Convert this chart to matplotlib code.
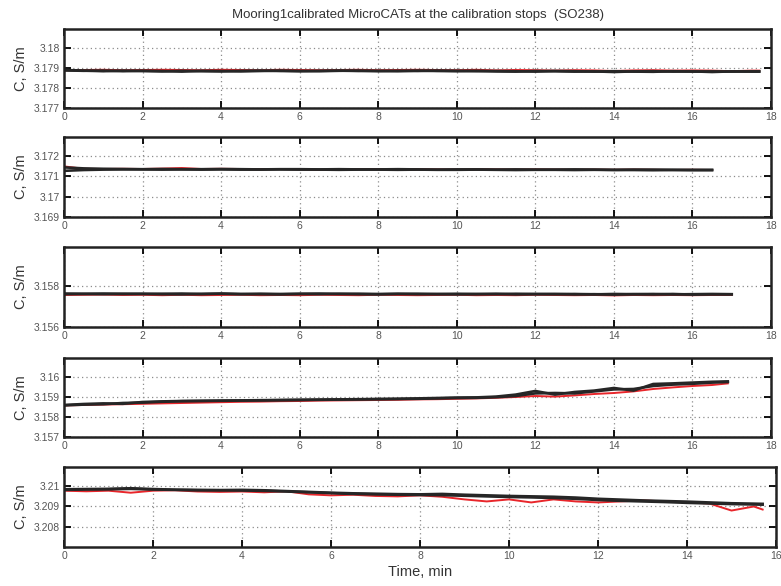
import matplotlib
matplotlib.use("Agg")
import matplotlib.pyplot as plt

plt.rcParams['font.family'] = ['Liberation Sans', 'DejaVu Sans']

# Time axes (min) for each calibration stop
t1 = [0, 0.5, 1, 1.5, 2, 2.5, 3, 3.5, 4, 4.5, 5, 5.5, 6, 6.5, 7, 7.5, 8, 8.5, 9, 9.5,
      10, 10.5, 11, 11.5, 12, 12.5, 13, 13.5, 14, 14.5, 15, 15.5, 16, 16.5, 17, 17.5, 17.7]
t2 = [0, 0.5, 1, 1.5, 2, 2.5, 3, 3.5, 4, 4.5, 5, 5.5, 6, 6.5, 7, 7.5, 8, 8.5, 9, 9.5,
      10, 10.5, 11, 11.5, 12, 12.5, 13, 13.5, 14, 14.5, 15, 15.5, 16, 16.5]
t3 = [0, 0.5, 1, 1.5, 2, 2.5, 3, 3.5, 4, 4.5, 5, 5.5, 6, 6.5, 7, 7.5, 8, 8.5, 9, 9.5,
      10, 10.5, 11, 11.5, 12, 12.5, 13, 13.5, 14, 14.5, 15, 15.5, 16, 16.5, 17]
t4 = [0, 0.5, 1, 1.5, 2, 2.5, 3, 3.5, 4, 4.5, 5, 5.5, 6, 6.5, 7, 7.5, 8, 8.5, 9, 9.5,
      10, 10.5, 11, 11.5, 12, 12.5, 13, 13.5, 14, 14.5, 15, 15.5, 16, 16.5, 16.9]
t5 = [0, 0.5, 1, 1.5, 2, 2.5, 3, 3.5, 4, 4.5, 5, 5.5, 6, 6.5, 7, 7.5, 8, 8.5, 9, 9.5,
      10, 10.5, 11, 11.5, 12, 12.5, 13, 13.5, 14, 14.5, 15, 15.5, 15.7]

# Stop 1
c1_black_a = [3.17890, 3.17887, 3.17884, 3.17887, 3.17885, 3.17883, 3.17886, 3.17884, 3.17883, 3.17886,
              3.17887, 3.17885, 3.17884, 3.17886, 3.17887, 3.17885, 3.17886, 3.17884, 3.17887, 3.17885,
              3.17884, 3.17886, 3.17883, 3.17882, 3.17885, 3.17884, 3.17882, 3.17883, 3.17880, 3.17883,
              3.17884, 3.17882, 3.17883, 3.17880, 3.17883, 3.17882, 3.17882]
c1_black_b = [3.17888, 3.17886, 3.17887, 3.17884, 3.17886, 3.17885, 3.17882, 3.17886, 3.17885, 3.17883,
              3.17885, 3.17887, 3.17885, 3.17884, 3.17886, 3.17887, 3.17884, 3.17886, 3.17885, 3.17887,
              3.17886, 3.17884, 3.17885, 3.17884, 3.17882, 3.17885, 3.17884, 3.17882, 3.17884, 3.17882,
              3.17881, 3.17884, 3.17882, 3.17883, 3.17882, 3.17883, 3.17883]
c1_red = [3.17889, 3.17890, 3.17891, 3.17889, 3.17890, 3.17891, 3.17890, 3.17889, 3.17891, 3.17890,
          3.17889, 3.17891, 3.17890, 3.17889, 3.17890, 3.17891, 3.17889, 3.17890, 3.17891, 3.17890,
          3.17889, 3.17891, 3.17888, 3.17890, 3.17889, 3.17887, 3.17889, 3.17888, 3.17885, 3.17888,
          3.17889, 3.17887, 3.17888, 3.17887, 3.17884, 3.17887, 3.17887]

# Stop 2
c2_black_a = [3.17145, 3.17140, 3.17138, 3.17137, 3.17136, 3.17137, 3.17136, 3.17136, 3.17137, 3.17136,
              3.17135, 3.17136, 3.17136, 3.17135, 3.17136, 3.17135, 3.17135, 3.17136, 3.17135, 3.17134,
              3.17135, 3.17135, 3.17134, 3.17135, 3.17134, 3.17134, 3.17135, 3.17134, 3.17133, 3.17134,
              3.17134, 3.17133, 3.17133, 3.17133]
c2_black_b = [3.17128, 3.17132, 3.17134, 3.17135, 3.17135, 3.17134, 3.17135, 3.17134, 3.17135, 3.17134,
              3.17134, 3.17135, 3.17134, 3.17134, 3.17133, 3.17134, 3.17134, 3.17133, 3.17134, 3.17133,
              3.17133, 3.17134, 3.17133, 3.17132, 3.17133, 3.17133, 3.17132, 3.17133, 3.17132, 3.17132,
              3.17131, 3.17132, 3.17131, 3.17131]
c2_red = [3.17150, 3.17138, 3.17137, 3.17138, 3.17137, 3.17139, 3.17142, 3.17137, 3.17138, 3.17137,
          3.17136, 3.17137, 3.17136, 3.17132, 3.17136, 3.17137, 3.17136, 3.17135, 3.17136, 3.17135,
          3.17134, 3.17136, 3.17135, 3.17134, 3.17135, 3.17134, 3.17133, 3.17134, 3.17133, 3.17134,
          3.17133, 3.17132, 3.17133, 3.17132]

# Stop 3
c3_black_a = [3.15763, 3.15762, 3.15763, 3.15762, 3.15761, 3.15762, 3.15763, 3.15761, 3.15762, 3.15760,
              3.15762, 3.15761, 3.15762, 3.15763, 3.15761, 3.15762, 3.15761, 3.15762, 3.15760, 3.15761,
              3.15762, 3.15761, 3.15760, 3.15762, 3.15761, 3.15760, 3.15761, 3.15759, 3.15761, 3.15760,
              3.15761, 3.15759, 3.15760, 3.15761, 3.15760]
c3_black_b = [3.15760, 3.15761, 3.15760, 3.15761, 3.15762, 3.15760, 3.15759, 3.15761, 3.15763, 3.15761,
              3.15760, 3.15759, 3.15761, 3.15760, 3.15762, 3.15760, 3.15759, 3.15761, 3.15762, 3.15760,
              3.15759, 3.15760, 3.15762, 3.15759, 3.15760, 3.15761, 3.15759, 3.15760, 3.15758, 3.15760,
              3.15759, 3.15761, 3.15758, 3.15759, 3.15759]
c3_red = [3.15756, 3.15757, 3.15758, 3.15756, 3.15757, 3.15755, 3.15757, 3.15755, 3.15756, 3.15757,
          3.15755, 3.15756, 3.15755, 3.15757, 3.15756, 3.15755, 3.15757, 3.15756, 3.15755, 3.15756,
          3.15757, 3.15755, 3.15756, 3.15755, 3.15757, 3.15756, 3.15755, 3.15756, 3.15754, 3.15756,
          3.15755, 3.15756, 3.15755, 3.15756, 3.15756]

# Stop 4
c4_black_a = [3.15860, 3.15865, 3.15868, 3.15866, 3.15875, 3.15878, 3.15880, 3.15881, 3.15882, 3.15883,
              3.15884, 3.15885, 3.15886, 3.15887, 3.15888, 3.15889, 3.15890, 3.15891, 3.15893, 3.15895,
              3.15897, 3.15898, 3.15902, 3.15912, 3.15930, 3.15912, 3.15925, 3.15932, 3.15945, 3.15932,
              3.15965, 3.15968, 3.15972, 3.15976, 3.15978]
c4_black_b = [3.15858, 3.15862, 3.15864, 3.15870, 3.15872, 3.15876, 3.15879, 3.15880, 3.15881, 3.15882,
              3.15883, 3.15884, 3.15885, 3.15886, 3.15887, 3.15888, 3.15889, 3.15890, 3.15891, 3.15893,
              3.15895, 3.15896, 3.15899, 3.15905, 3.15918, 3.15920, 3.15918, 3.15928, 3.15938, 3.15940,
              3.15955, 3.15962, 3.15966, 3.15972, 3.15975]
c4_red = [3.15858, 3.15860, 3.15862, 3.15864, 3.15866, 3.15868, 3.15870, 3.15872, 3.15874, 3.15876,
          3.15877, 3.15879, 3.15880, 3.15882, 3.15883, 3.15884, 3.15885, 3.15886, 3.15888, 3.15889,
          3.15891, 3.15893, 3.15896, 3.15900, 3.15905, 3.15902, 3.15908, 3.15915, 3.15920, 3.15928,
          3.15940, 3.15948, 3.15955, 3.15960, 3.15968]

# Stop 5
c5_black_a = [3.20985, 3.20986, 3.20987, 3.20990, 3.20986, 3.20983, 3.20982, 3.20981, 3.20982, 3.20980,
              3.20976, 3.20972, 3.20968, 3.20965, 3.20963, 3.20961, 3.20960, 3.20962, 3.20958, 3.20955,
              3.20952, 3.20950, 3.20948, 3.20944, 3.20938, 3.20934, 3.20930, 3.20927, 3.20924, 3.20920,
              3.20916, 3.20914, 3.20913]
c5_black_b = [3.20982, 3.20984, 3.20985, 3.20987, 3.20984, 3.20982, 3.20980, 3.20980, 3.20979, 3.20977,
              3.20974, 3.20970, 3.20966, 3.20962, 3.20960, 3.20958, 3.20957, 3.20956, 3.20953, 3.20950,
              3.20947, 3.20945, 3.20942, 3.20938, 3.20932, 3.20928, 3.20925, 3.20922, 3.20918, 3.20915,
              3.20912, 3.20910, 3.20909]
c5_red = [3.20978, 3.20975, 3.20978, 3.20968, 3.20978, 3.20980, 3.20974, 3.20972, 3.20974, 3.20970,
          3.20975, 3.20960, 3.20955, 3.20958, 3.20952, 3.20950, 3.20955, 3.20948, 3.20935, 3.20925,
          3.20935, 3.20920, 3.20935, 3.20925, 3.20920, 3.20925, 3.20930, 3.20925, 3.20920, 3.20915,
          3.20880, 3.20900, 3.20885]

times = [t1, t2, t3, t4, t5]
blacks = [(c1_black_a, c1_black_b), (c2_black_a, c2_black_b), (c3_black_a, c3_black_b),
          (c4_black_a, c4_black_b), (c5_black_a, c5_black_b)]
reds = [c1_red, c2_red, c3_red, c4_red, c5_red]

ylims = [(3.177, 3.18095), (3.169, 3.17295), (3.156, 3.1599), (3.157, 3.16095), (3.207, 3.21095)]
yticks = [[3.177, 3.178, 3.179, 3.18], [3.169, 3.17, 3.171, 3.172], [3.156, 3.158],
          [3.157, 3.158, 3.159, 3.16], [3.208, 3.209, 3.21]]
yticklabels = [['3.177', '3.178', '3.179', '3.18'], ['3.169', '3.17', '3.171', '3.172'],
               ['3.156', '3.158'], ['3.157', '3.158', '3.159', '3.16'], ['3.208', '3.209', '3.21']]
xmax = [18, 18, 18, 18, 16]

W, H = 781, 586
fig = plt.figure(figsize=(W / 100, H / 100), dpi=100)

# axes boxes in pixels: (left, top, right, bottom)
boxes = [(64, 29, 771, 108), (64, 137, 771, 217), (64, 247, 771, 327),
         (64, 358, 771, 437), (64, 467, 776, 547)]

for i in range(5):
    l, t, r, b = boxes[i]
    ax = fig.add_axes([l / W, 1 - b / H, (r - l) / W, (b - t) / H])
    ax.plot(times[i], reds[i], color='#e8262b', lw=1.4)
    for series in blacks[i]:
        ax.plot(times[i], series, color='#262626', lw=1.9)
    ax.set_xlim(0, xmax[i])
    ax.set_xticks(range(0, xmax[i] + 1, 2))
    ax.set_ylim(*ylims[i])
    ax.set_yticks(yticks[i])
    ax.set_yticklabels(yticklabels[i])
    ax.grid(True, linestyle=(0, (1, 2.5)), color='#8c8c8c', linewidth=0.9)
    ax.tick_params(direction='in', top=True, right=True, length=5, width=1.3,
                   labelsize=7.5, labelcolor='#555555', pad=3)
    for s in ax.spines.values():
        s.set_linewidth(1.8)
        s.set_color('#222222')
    ax.set_ylabel('C, S/m', fontsize=10.5, color='#333333', labelpad=4)
    if i == 0:
        ax.set_title('Mooring1calibrated MicroCATs at the calibration stops  (SO238)',
                     fontsize=9.5, color='#333333', pad=8)
    if i == 4:
        ax.set_xlabel('Time, min', fontsize=10.5, color='#333333', labelpad=3)

fig.savefig('out.png', dpi=100)
